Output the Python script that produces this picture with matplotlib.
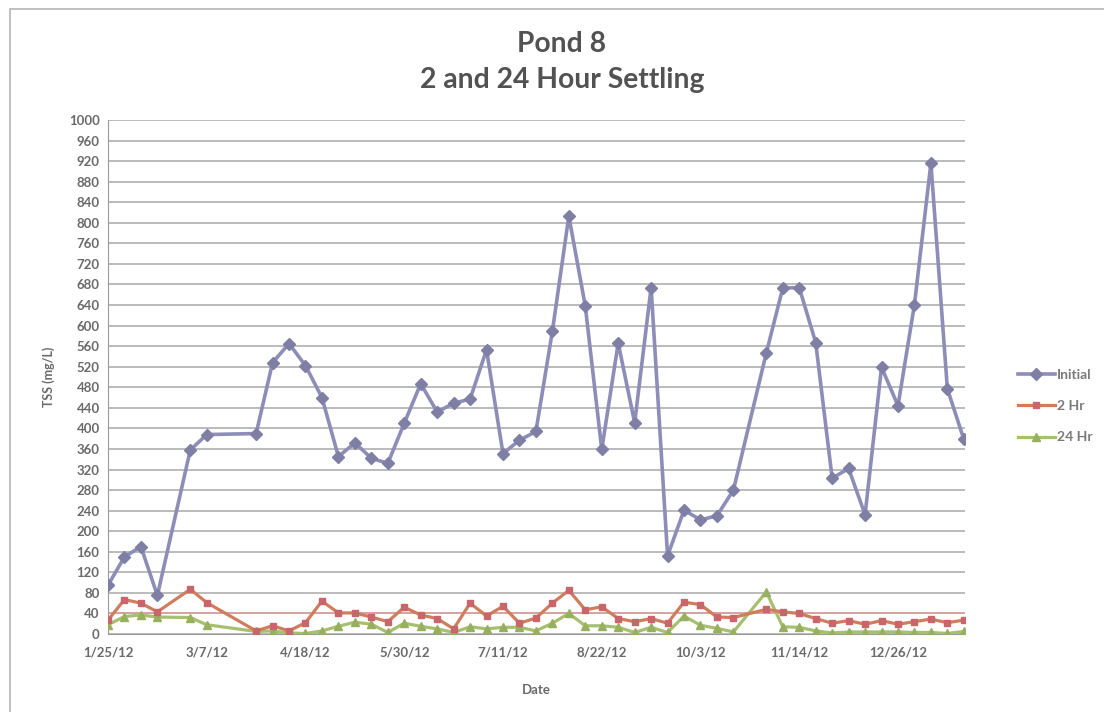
import matplotlib
matplotlib.use("Agg")
import matplotlib.pyplot as plt
import numpy as np
import pandas as pd
from matplotlib.patches import Rectangle

# Sampling dates (weekly, with a few skipped weeks)
dates = [
    "2012-01-25", "2012-02-01", "2012-02-08", "2012-02-15", "2012-02-29",
    "2012-03-07", "2012-03-28", "2012-04-04", "2012-04-11", "2012-04-18",
    "2012-04-25", "2012-05-02", "2012-05-09", "2012-05-16", "2012-05-23",
    "2012-05-30", "2012-06-06", "2012-06-13", "2012-06-20", "2012-06-27",
    "2012-07-04", "2012-07-11", "2012-07-18", "2012-07-25", "2012-08-01",
    "2012-08-08", "2012-08-15", "2012-08-22", "2012-08-29", "2012-09-05",
    "2012-09-12", "2012-09-19", "2012-09-26", "2012-10-03", "2012-10-10",
    "2012-10-17", "2012-10-31", "2012-11-07", "2012-11-14", "2012-11-21",
    "2012-11-28", "2012-12-05", "2012-12-12", "2012-12-19", "2012-12-26",
    "2013-01-02", "2013-01-09", "2013-01-16", "2013-01-23",
]

# TSS (mg/L)
initial = [95, 150, 170, 75, 358, 388, 390, 528, 565, 522,
           460, 345, 372, 342, 332, 410, 487, 432, 449, 457,
           553, 351, 377, 394, 589, 813, 638, 359, 566, 411,
           674, 152, 241, 222, 230, 280, 547, 673, 674, 567,
           303, 322, 232, 519, 444, 641, 916, 477, 379]
hr2 = [27, 67, 60, 43, 87, 61, 6, 16, 6, 22,
       64, 41, 41, 33, 24, 52, 37, 30, 10, 60,
       35, 54, 21, 31, 60, 85, 47, 53, 30, 24,
       30, 21, 62, 57, 33, 32, 48, 43, 40, 30,
       21, 26, 19, 26, 19, 24, 29, 22, 27]
hr24 = [18, 34, 37, 33, 32, 18, 5, 6, 2, 1,
        6, 15, 23, 19, 3, 21, 15, 10, 3, 14,
        10, 13, 13, 6, 21, 40, 16, 16, 13, 3,
        13, 3, 35, 17, 11, 4, 82, 14, 13, 6,
        2, 4, 4, 4, 4, 3, 3, 1, 5]

tick_dates = ["2012-01-25", "2012-03-07", "2012-04-18", "2012-05-30", "2012-07-11",
              "2012-08-22", "2012-10-03", "2012-11-14", "2012-12-26"]
tick_labels = ["1/25/12", "3/7/12", "4/18/12", "5/30/12", "7/11/12",
               "8/22/12", "10/3/12", "11/14/12", "12/26/12"]

x = pd.to_datetime(dates)
xt = pd.to_datetime(tick_dates)

plt.rcParams["font.family"] = ["Lato", "DejaVu Sans"]

fig = plt.figure(figsize=(11.04, 7.12), dpi=100)
fig.patch.set_facecolor("white")

# chart-area border (left and top edges visible)
fig.add_artist(Rectangle((10 / 1104, -0.05), 1.2, (712 - 9) / 712 + 0.05,
                         transform=fig.transFigure, fill=False,
                         edgecolor="#b5b5b5", linewidth=1.2))

ax = fig.add_axes([108 / 1104, (712 - 634) / 712, (965 - 108) / 1104, (634 - 120) / 712])

c_init_line = "#8d8db8"
c_init_mark = "#7f7fa6"
c_2hr_line = "#cf7d5c"
c_2hr_mark = "#c9666c"
c_24hr_line = "#a6c06f"
c_24hr_mark = "#96b05f"

ax.plot(x, initial, color=c_init_line, lw=2.6, marker="D", ms=6.5,
        mfc=c_init_mark, mec=c_init_mark, label="Initial", zorder=5)
ax.plot(x, hr2, color=c_2hr_line, lw=2.3, marker="s", ms=5,
        mfc=c_2hr_mark, mec=c_2hr_mark, label="2 Hr", zorder=4)
ax.plot(x, hr24, color=c_24hr_line, lw=2.3, marker="^", ms=5.5,
        mfc=c_24hr_mark, mec=c_24hr_mark, label="24 Hr", zorder=3)

# reference line at 40 mg/L
ax.axhline(40, color="#d9a3a3", lw=1.4, zorder=2)

ax.set_ylim(0, 1000)
ax.set_yticks(np.arange(0, 1001, 40))
ax.set_xlim(xt[0], xt[0] + pd.Timedelta(days=364.5))
ax.set_xticks(xt)
ax.set_xticklabels(tick_labels)

ax.grid(axis="y", color="#a8a8a8", lw=1.1)
ax.set_axisbelow(True)
for side in ["top", "right"]:
    ax.spines[side].set_visible(False)
ax.spines["left"].set_color("#9a9a9a")
ax.spines["bottom"].set_color("#9a9a9a")
ax.tick_params(axis="both", length=0, colors="#6a6a6a", labelsize=9.5)
ax.tick_params(axis="x", pad=9)
ax.tick_params(axis="y", pad=6)
for lab in ax.get_xticklabels() + ax.get_yticklabels():
    lab.set_fontweight("bold")

ax.set_xlabel("Date", fontsize=9.5, fontweight="bold", color="#6a6a6a", labelpad=18)
ax.set_ylabel("TSS (mg/L)", fontsize=9, fontweight="bold", color="#6a6a6a", labelpad=10)

fig.text(562 / 1104, 1 - 44 / 712, "Pond 8", ha="center", va="center",
         fontsize=20.3, fontweight="bold", color="#525252")
fig.text(562 / 1104, 1 - 80 / 712, "2 and 24 Hour Settling", ha="center", va="center",
         fontsize=20.3, fontweight="bold", color="#525252")

leg = ax.legend(loc="center left", bbox_to_anchor=((1012 - 108) / 857, (634 - 406) / 514),
                frameon=False, fontsize=10, labelcolor="#7a7a7a", handlelength=2.7,
                handletextpad=0.15, labelspacing=1.4, borderaxespad=0)
for t in leg.get_texts():
    t.set_fontweight("bold")

fig.savefig("out.png", dpi=100, facecolor="white")
